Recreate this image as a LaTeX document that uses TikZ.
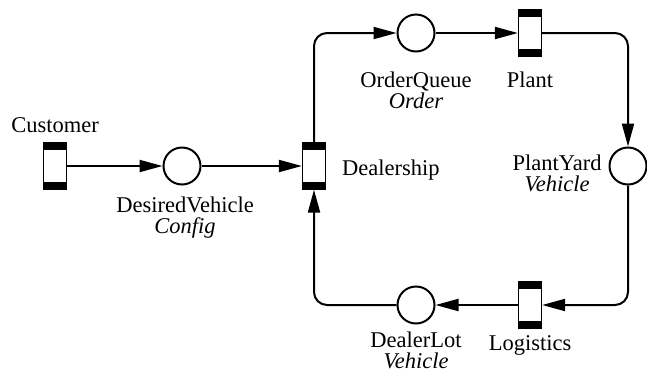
\documentclass[tikz,border=0pt]{standalone}
\usepackage{fontspec}
\setmainfont{Liberation Serif}
\usetikzlibrary{arrows.meta,calc}
\begin{document}
\begin{tikzpicture}[x=1pt,y=-1pt,
  every node/.style={font=\fontsize{22.5}{21}\selectfont},
  trans/.style={draw, line width=1.3pt, fill=white, minimum width=23pt, minimum height=46pt, inner sep=0pt},
  band/.style={fill=black},
  place/.style={draw, circle, line width=2pt, minimum size=37pt, inner sep=0pt},
  lbl/.style={align=center, inner sep=0pt},
  arc/.style={line width=2pt, -{Triangle[length=23pt,width=12pt]}, rounded corners=13pt}
]
\useasboundingbox (0,0) rectangle (647,373);

\node[trans] (cust) at (55,166) {};
\node[place] (dv) at (182,166) {};
\node[trans] (deal) at (314,166) {};
\node[place] (oq) at (416,33) {};
\node[trans] (plant) at (530,33) {};
\node[place] (py) at (628,166) {};
\node[trans] (log) at (530,305) {};
\node[place] (dl) at (416,305) {};

\foreach \t in {cust,deal,plant,log}{
  \fill[band] (\t.north west) rectangle ($(\t.north east)+(0,7.5)$);
  \fill[band] (\t.south west) rectangle ($(\t.south east)+(0,-7.5)$);
}

\node[lbl, anchor=north] (custl) at (55,117) {Customer};
\node[lbl, anchor=north] (dvl) at (185,197) {DesiredVehicle\\\textit{Config}};
\node[lbl, anchor=base west] (deall) at (342,175) {Dealership};
\node[lbl, anchor=north] (oql) at (416,71.5) {OrderQueue\\\textit{Order}};
\node[lbl, anchor=north] (plantl) at (530,71.5) {Plant};
\node[lbl, anchor=north] (pyl) at (557,155) {PlantYard\\\textit{Vehicle}};
\node[lbl, anchor=north] (logl) at (530,335) {Logistics};
\node[lbl, anchor=north] (dll) at (416,331.5) {DealerLot\\\textit{Vehicle}};

\draw[arc] (cust) -- (dv);
\draw[arc] (dv) -- (deal);
\draw[arc] (deal.north) |- (oq);
\draw[arc] (oq) -- (plant);
\draw[arc] (plant.east) -| (py);
\draw[arc] (py.south) |- (log);
\draw[arc] (log) -- (dl);
\draw[arc] (dl.west) -| (deal);
\end{tikzpicture}
\end{document}
